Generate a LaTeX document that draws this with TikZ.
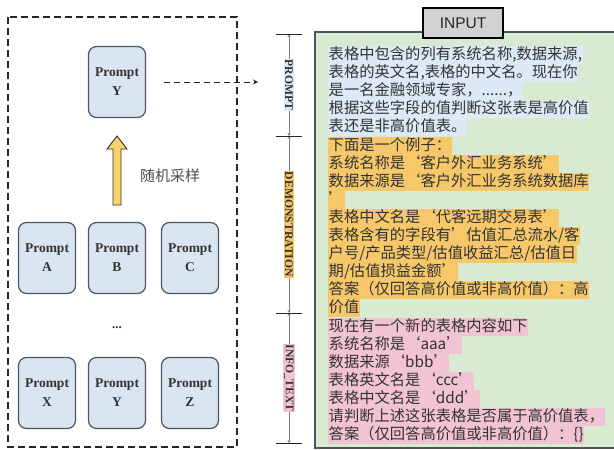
\documentclass[tikz,border=0pt]{standalone}
\usepackage{fontspec}
\setmainfont{Liberation Serif}
\newfontfamily\cjk{Noto Sans CJK SC}
\newfontfamily\sansf{Liberation Sans}
\usetikzlibrary{arrows.meta}

\definecolor{boxblue}{HTML}{DAE5F2}
\definecolor{boxline}{HTML}{4A5563}
\definecolor{panelgreen}{HTML}{D9EAD3}
\definecolor{hlblue}{HTML}{DCE9F6}
\definecolor{hlorange}{HTML}{F6C86A}
\definecolor{hlpink}{HTML}{F2C3D4}
\definecolor{arrowyellow}{HTML}{F8D36D}
\definecolor{inkgray}{HTML}{333333}

\begin{document}
\begin{tikzpicture}[x=1pt, y=-1pt,
    promptbox/.style={draw=boxline, fill=boxblue, line width=1.2pt, rounded corners=8pt,
        minimum width=57pt, minimum height=71pt, align=center, inner sep=0pt,
        font=\fontsize{13.5}{19}\selectfont\bfseries, text=black!80},
    txtline/.style={anchor=west, inner xsep=0.5pt, inner ysep=1pt, text height=12.5pt, text depth=3.5pt,
        font=\cjk\fontsize{15.3}{18}\selectfont, text=inkgray},
    tag/.style={rotate=-90, inner sep=1pt, font=\fontsize{11.7}{14}\selectfont\bfseries, text=inkgray},
    dimline/.style={draw=gray, line width=0.6pt, {Stealth[length=3pt,width=3pt]}-{Stealth[length=3pt,width=3pt]}},
    tick/.style={draw=black!85, line width=1pt},
    dasharrow/.style={draw=black!85, line width=1pt, dash pattern=on 6pt off 4pt, -{Stealth[length=5pt,width=5pt]}}]

\useasboundingbox (0,0) rectangle (614,450);

% left side: sampling of prompts
\draw[draw=black!85, line width=1.4pt, dash pattern=on 7pt off 4pt] (8,17) rectangle (237,447);

\node[promptbox] (pY) at (117,82) {Prompt\\Y};

\node[promptbox] (pA) at (47,258) {Prompt\\A};
\node[promptbox] (pB) at (117,258) {Prompt\\B};
\node[promptbox] (pC) at (190,258) {Prompt\\C};

\node[font=\fontsize{13}{14}\selectfont\bfseries, text=inkgray] (dots) at (117,328) {...};

\node[promptbox] (pX) at (47,393) {Prompt\\X};
\node[promptbox] (pY2) at (117,393) {Prompt\\Y};
\node[promptbox] (pZ) at (190,393) {Prompt\\Z};

\draw[fill=arrowyellow, draw=black!80, line width=0.9pt, line join=miter]
    (113,205) -- (113,149) -- (107,149) -- (117,136) -- (127,149) -- (121,149) -- (121,205) -- cycle;
\node[font=\cjk\fontsize{15}{16}\selectfont, text=black!70] (sample) at (170,176) {随机采样};

\coordinate (yend) at (258,82);
\draw[dasharrow] ([xshift=18pt]pY.east) -- (yend);

% right side: input panel
\draw[fill=panelgreen, draw=boxline, line width=1.2pt] (315,32) rectangle (620,448);
\node[draw=black, fill=gray!35, line width=1.2pt, minimum width=80pt, minimum height=30pt,
    font=\sansf\fontsize{15.5}{16}\selectfont, text=black!85] (input) at (463,23) {INPUT};

\node[txtline, fill=hlblue] (l1) at (328,55) {表格中包含的列有系统名称,数据来源,};
\node[txtline, fill=hlblue] (l2) at ([yshift=-18.1pt]l1.west) {表格的英文名,表格的中文名。现在你};
\node[txtline, fill=hlblue] (l3) at ([yshift=-18.1pt]l2.west) {是一名金融领域专家，......，};
\node[txtline, fill=hlblue] (l4) at ([yshift=-18.1pt]l3.west) {根据这些字段的值判断这张表是高价值};
\node[txtline, fill=hlblue] (l5) at ([yshift=-18.1pt]l4.west) {表还是非高价值表。};
\node[txtline, fill=hlorange] (l6) at ([yshift=-18.1pt]l5.west) {下面是一个例子：};
\node[txtline, fill=hlorange] (l7) at ([yshift=-18.1pt]l6.west) {系统名称是‘客户外汇业务系统’};
\node[txtline, fill=hlorange] (l8) at ([yshift=-18.1pt]l7.west) {数据来源是‘客户外汇业务系统数据库};
\node[txtline, fill=hlorange] (l9) at ([yshift=-18.1pt]l8.west) {’};
\node[txtline, fill=hlorange] (l10) at ([yshift=-18.1pt]l9.west) {表格中文名是‘代客远期交易表’};
\node[txtline, fill=hlorange] (l11) at ([yshift=-18.1pt]l10.west) {表格含有的字段有’估值汇总流水/客};
\node[txtline, fill=hlorange] (l12) at ([yshift=-18.1pt]l11.west) {户号/产品类型/估值收益汇总/估值日};
\node[txtline, fill=hlorange] (l13) at ([yshift=-18.1pt]l12.west) {期/估值损益金额’};
\node[txtline, fill=hlorange] (l14) at ([yshift=-18.1pt]l13.west) {答案（仅回答高价值或非高价值）：高};
\node[txtline, fill=hlorange] (l15) at ([yshift=-18.1pt]l14.west) {价值};
\node[txtline, fill=hlpink] (l16) at ([yshift=-18.1pt]l15.west) {现在有一个新的表格内容如下};
\node[txtline, fill=hlpink] (l17) at ([yshift=-18.1pt]l16.west) {系统名称是‘aaa’};
\node[txtline, fill=hlpink] (l18) at ([yshift=-18.1pt]l17.west) {数据来源‘bbb’};
\node[txtline, fill=hlpink] (l19) at ([yshift=-18.1pt]l18.west) {表格英文名是‘ccc’};
\node[txtline, fill=hlpink] (l20) at ([yshift=-18.1pt]l19.west) {表格中文名是‘ddd’};
\node[txtline, fill=hlpink] (l21) at ([yshift=-18.1pt]l20.west) {请判断上述这张表格是否属于高价值表，};
\node[txtline, fill=hlpink] (l22) at ([yshift=-18.1pt]l21.west) {答案（仅回答高价值或非高价值）：\{\}};

% brackets for the three parts
\coordinate (t1) at (289,34);
\coordinate (t2) at (289,136);
\coordinate (t3) at (289,313);
\coordinate (t4) at (289,443);

\draw[dimline] (t1) -- node[tag, fill=hlblue] (tprompt) {PROMPT} (t2);
\draw[dimline] (t2) -- node[tag, fill=hlorange] (tdemo) {DEMONSTRATION} (t3);
\draw[dimline] (t3) -- node[tag, fill=hlpink] (tinfo) {INFO\_TEXT} (t4);

\draw[tick] ([xshift=-13pt]t1) -- ([xshift=13pt]t1);
\draw[tick] ([xshift=-13pt]t2) -- ([xshift=13pt]t2);
\draw[tick] ([xshift=-13pt]t3) -- ([xshift=13pt]t3);
\draw[tick] ([xshift=-13pt]t4) -- ([xshift=13pt]t4);

\end{tikzpicture}
\end{document}
